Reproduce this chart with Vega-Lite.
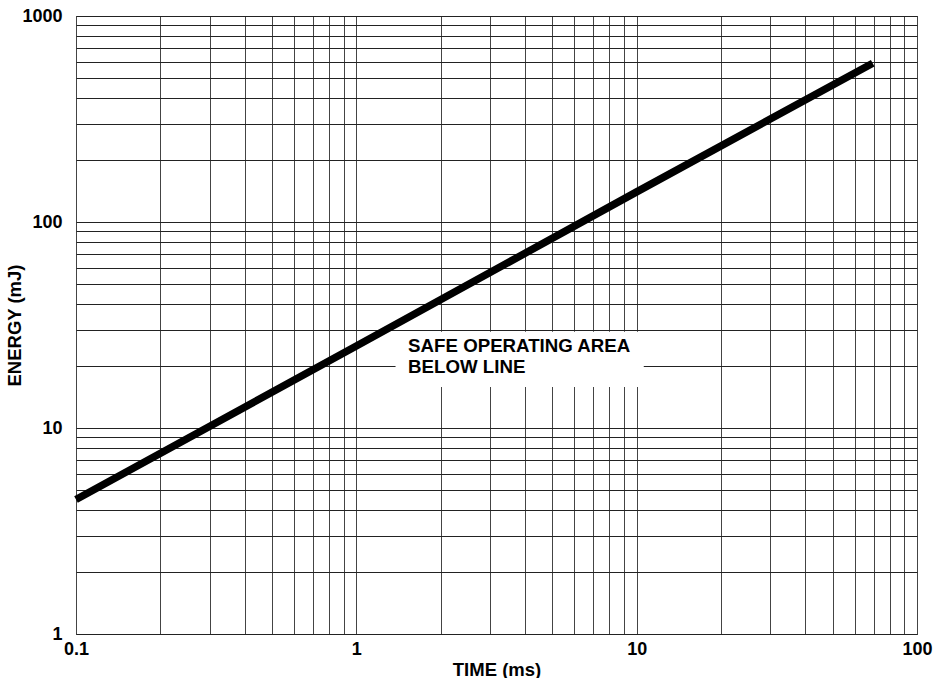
{
  "$schema": "https://vega.github.io/schema/vega-lite/v6.json",
  "width": 841,
  "height": 618,
  "autosize": {"type": "none"},
  "padding": {"left": 76, "top": 16, "right": 17, "bottom": 44},
  "background": "white",
  "config": {
    "view": {"stroke": "#222", "strokeWidth": 1},
    "font": "Liberation Sans"
  },
  "datasets": {
    "curve": [
      {"t": 0.1, "e": 4.5},
      {"t": 1, "e": 25},
      {"t": 10, "e": 140},
      {"t": 69.5, "e": 590}
    ],
    "box": [
      {"t1": 1.38, "t2": 10.6, "e1": 15.8, "e2": 29.3}
    ],
    "notes": [
      {"t": 1.53, "e": 25.0, "label": "SAFE OPERATING AREA"},
      {"t": 1.53, "e": 19.8, "label": "BELOW LINE"}
    ]
  },
  "layer": [
    {
      "data": {"name": "box"},
      "mark": {"type": "rect", "fill": "white", "stroke": null},
      "encoding": {
        "x": {
          "field": "t1", "type": "quantitative",
          "scale": {"type": "log", "domain": [0.1, 100], "nice": false},
          "axis": {
            "title": "TIME (ms)",
            "values": [0.1,0.2,0.3,0.4,0.5,0.6,0.7,0.8,0.9,1,2,3,4,5,6,7,8,9,10,20,30,40,50,60,70,80,90,100],
            "labelExpr": "indexof([0.1,1,10,100], datum.value) >= 0 ? (datum.value == 0.1 ? '0.1' : format(datum.value, 'd')) : ''",
            "grid": true, "gridColor": "#444", "gridWidth": 1, "gridOpacity": 1,
            "ticks": false, "domain": false,
            "labelFont": "Liberation Sans", "labelFontWeight": "bold", "labelFontSize": 18, "labelColor": "#000",
            "labelPadding": 6, "labelFlush": false, "labelOverlap": false,
            "titleFont": "Liberation Sans", "titleFontWeight": "bold", "titleFontSize": 18.5, "titleColor": "#000",
            "titlePadding": 2
          }
        },
        "x2": {"field": "t2"},
        "y": {
          "field": "e1", "type": "quantitative",
          "scale": {"type": "log", "domain": [1, 1000], "nice": false},
          "axis": {
            "title": "ENERGY (mJ)",
            "values": [1,2,3,4,5,6,7,8,9,10,20,30,40,50,60,70,80,90,100,200,300,400,500,600,700,800,900,1000],
            "labelExpr": "indexof([1,10,100,1000], datum.value) >= 0 ? format(datum.value, 'd') : ''",
            "grid": true, "gridColor": "#222", "gridWidth": 1, "gridOpacity": 1,
            "ticks": false, "domain": false,
            "labelFont": "Liberation Sans", "labelFontWeight": "bold", "labelFontSize": 18, "labelColor": "#000",
            "labelPadding": 14, "labelFlush": false, "labelOverlap": false,
            "titleFont": "Liberation Sans", "titleFontWeight": "bold", "titleFontSize": 18.5, "titleColor": "#000",
            "titlePadding": -3
          }
        },
        "y2": {"field": "e2"}
      }
    },
    {
      "data": {"name": "notes"},
      "mark": {"type": "text", "align": "left", "baseline": "middle", "font": "Liberation Sans", "fontWeight": "bold", "fontSize": 18.7, "color": "#000"},
      "encoding": {
        "x": {"field": "t", "type": "quantitative"},
        "y": {"field": "e", "type": "quantitative"},
        "text": {"field": "label"}
      }
    },
    {
      "data": {"name": "curve"},
      "mark": {"type": "line", "color": "#000", "strokeWidth": 7.5, "strokeCap": "butt"},
      "encoding": {
        "x": {"field": "t", "type": "quantitative"},
        "y": {"field": "e", "type": "quantitative"}
      }
    }
  ]
}
